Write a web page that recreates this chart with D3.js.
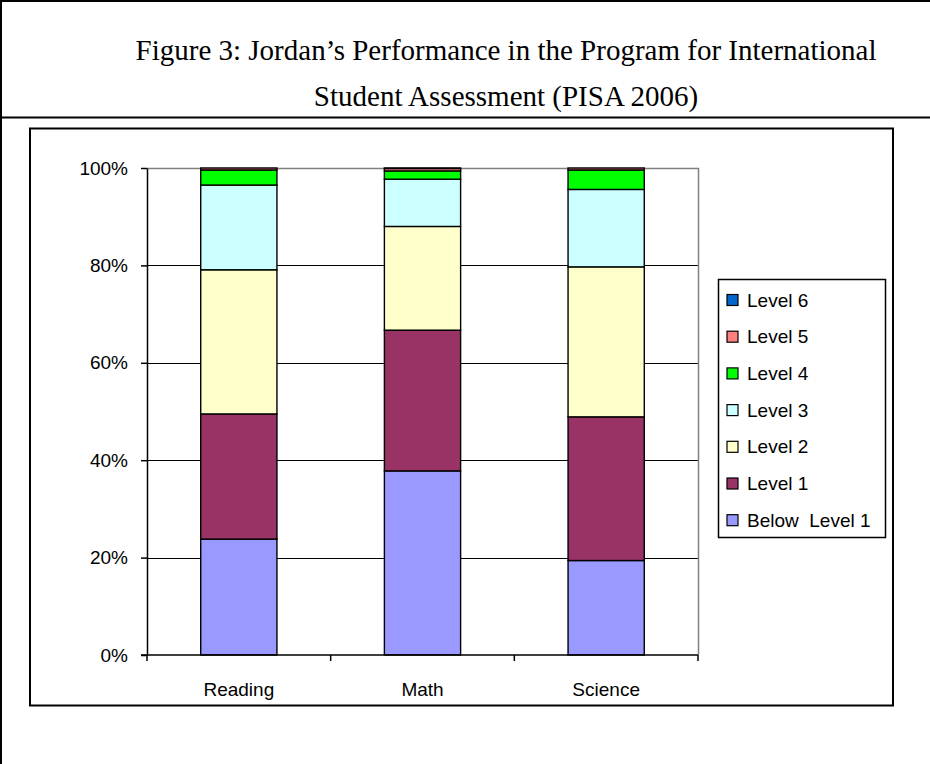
<!DOCTYPE html>
<html>
<head>
<meta charset="utf-8">
<script src="https://cdn.jsdelivr.net/npm/d3@7/dist/d3.min.js"></script>
<style>
  body { margin: 0; background: #fff; }
  svg { display: block; }
</style>
</head>
<body>
<svg id="chart"></svg>
<script>
const width = 930;
const height = 764;

// data (percent of students at each level)
const subjects = ['Reading', 'Math', 'Science'];
const levelNames = ['Below  Level 1', 'Level 1', 'Level 2', 'Level 3', 'Level 4', 'Level 5', 'Level 6'];
const belowLevel1 = [23.8, 37.8, 19.4];
const level1 = [25.7, 28.9, 29.5];
const level2 = [29.6, 21.3, 30.8];
const level3 = [17.4, 9.7, 15.9];
const level4 = [3.1, 1.7, 4.0];
const level5 = [0.4, 0.5, 0.4];
const level6 = [0.0, 0.1, 0.0];
const yTicks = [0, 0.2, 0.4, 0.6, 0.8, 1];
const levelColors = ['#9999ff', '#993366', '#ffffcc', '#ccffff', '#00ff00', '#ff8080', '#0066cc'];

const series = [belowLevel1, level1, level2, level3, level4, level5, level6];
const rows = subjects.map((s, i) => {
  const row = { subject: s };
  levelNames.forEach((l, j) => { row[l] = series[j][i] / 100; });
  return row;
});

// plot box
const plot = { left: 147, right: 698, top: 168, bottom: 655 };

const svg = d3.select('#chart')
  .attr('width', width)
  .attr('height', height)
  .style('font-family', '"Liberation Sans", Arial, sans-serif');

// document frame + title row ----------------------
svg.append('line').attr('x1', 1).attr('x2', 1).attr('y1', 0).attr('y2', height)
  .attr('stroke', '#000').attr('stroke-width', 2);
svg.append('line').attr('x1', 0).attr('x2', width).attr('y1', 1).attr('y2', 1)
  .attr('stroke', '#000').attr('stroke-width', 2);
svg.append('line').attr('x1', 0).attr('x2', width).attr('y1', 117.5).attr('y2', 117.5)
  .attr('stroke', '#000').attr('stroke-width', 2);

const title = svg.append('text')
  .attr('text-anchor', 'middle')
  .style('font-family', '"Liberation Serif", "Times New Roman", serif')
  .style('font-size', '29px');
title.append('tspan').attr('x', 506).attr('y', 60)
  .text('Figure 3: Jordan\u2019s Performance in the Program for International');
title.append('tspan').attr('x', 506).attr('y', 106)
  .text('Student Assessment (PISA 2006)');

// chart area frame
svg.append('rect')
  .attr('x', 30).attr('y', 128.5)
  .attr('width', 863).attr('height', 577)
  .attr('fill', 'none')
  .attr('stroke', '#000')
  .attr('stroke-width', 2);

// scales ----------------------
const x = d3.scaleBand()
  .domain(subjects)
  .range([plot.left, plot.right])
  .paddingInner(0.585)
  .paddingOuter(0.2925);

const y = d3.scaleLinear()
  .domain([0, 1])
  .range([plot.bottom, plot.top]);

// gridlines + plot border
svg.append('g')
  .selectAll('line')
  .data(yTicks.filter(d => d > 0 && d < 1))
  .join('line')
  .attr('x1', plot.left).attr('x2', plot.right)
  .attr('y1', d => Math.round(y(d)) + 0.5).attr('y2', d => Math.round(y(d)) + 0.5)
  .attr('stroke', '#000')
  .attr('stroke-width', 1.2);

svg.append('path')
  .attr('d', `M${plot.left},${plot.top + 0.5}H${plot.right + 0.5}V${plot.bottom}`)
  .attr('fill', 'none')
  .attr('stroke', '#808080')
  .attr('stroke-width', 1.5);

// stacked bars
const stacked = d3.stack().keys(levelNames)(rows);

svg.append('g')
  .selectAll('g')
  .data(stacked)
  .join('g')
  .attr('fill', (d, i) => levelColors[i])
  .selectAll('rect')
  .data(d => d)
  .join('rect')
  .attr('x', d => x(d.data.subject))
  .attr('width', x.bandwidth())
  .attr('y', d => y(d[1]))
  .attr('height', d => y(d[0]) - y(d[1]))
  .attr('stroke', '#000')
  .attr('stroke-width', 1.4);

// axes ----------------------
const yAxis = svg.append('g')
  .attr('transform', `translate(${plot.left},0)`)
  .call(d3.axisLeft(y)
    .tickValues(yTicks)
    .tickFormat(d3.format('.0%'))
    .tickSize(6)
    .tickSizeOuter(0)
    .tickPadding(13));
yAxis.select('.domain').attr('stroke-width', 1.5);
yAxis.selectAll('.tick line').attr('stroke-width', 1.5);
yAxis.selectAll('text')
  .style('font-size', '19px')
  .attr('fill', '#000');

const xAxis = svg.append('g')
  .attr('transform', `translate(0,${plot.bottom})`);
xAxis.append('line')
  .attr('x1', plot.left - 6).attr('x2', plot.right)
  .attr('stroke', '#000').attr('stroke-width', 1.5);
xAxis.selectAll('.bound')
  .data(d3.range(subjects.length + 1))
  .join('line')
  .attr('class', 'bound')
  .attr('x1', i => plot.left + i * x.step())
  .attr('x2', i => plot.left + i * x.step())
  .attr('y1', 0).attr('y2', 6)
  .attr('stroke', '#000').attr('stroke-width', 1.5);
xAxis.selectAll('.label')
  .data(subjects)
  .join('text')
  .attr('class', 'label')
  .attr('x', d => x(d) + x.bandwidth() / 2)
  .attr('y', 41)
  .attr('text-anchor', 'middle')
  .style('font-size', '19px')
  .text(d => d);

// legend ----------------------
const legend = svg.append('g');
legend.append('rect')
  .attr('x', 718.5).attr('y', 279.5)
  .attr('width', 167).attr('height', 258)
  .attr('fill', '#fff')
  .attr('stroke', '#000')
  .attr('stroke-width', 1.5);

const legendOrder = levelNames.map((l, i) => ({ name: l, color: levelColors[i] })).reverse();
const item = legend.selectAll('.item')
  .data(legendOrder)
  .join('g')
  .attr('class', 'item')
  .attr('transform', (d, i) => `translate(727,${300 + i * 36.7})`);
item.append('rect')
  .attr('x', 0).attr('y', -5.5)
  .attr('width', 11).attr('height', 11)
  .attr('fill', d => d.color)
  .attr('stroke', '#000')
  .attr('stroke-width', 1.2);
item.append('text')
  .attr('x', 20)
  .attr('dy', '0.35em')
  .style('font-size', '19px')
  .style('white-space', 'pre')
  .text(d => d.name);
</script>
</body>
</html>
